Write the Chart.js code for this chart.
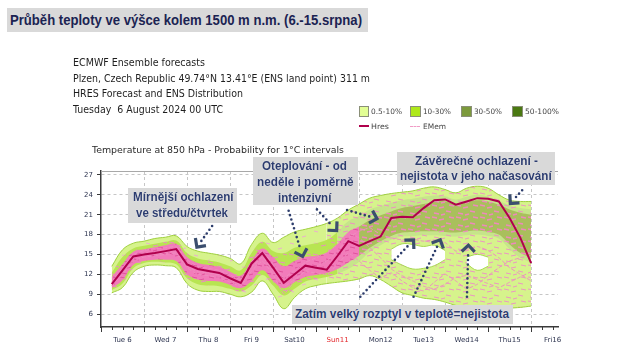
<!DOCTYPE html>
<html><head><meta charset="utf-8">
<script src="https://cdn.jsdelivr.net/npm/chart.js@4.4.1/dist/chart.umd.min.js"></script>
<style>
html,body{margin:0;padding:0;background:#fff;}
body{width:630px;height:353px;position:relative;overflow:hidden;font-family:'Liberation Sans',Arial,sans-serif;}
#c{position:absolute;left:0;top:0;}
.t{position:absolute;white-space:nowrap;transform-origin:0 50%;line-height:1;}
.box{position:absolute;background:#d9d9d9;}
.b{font-weight:bold;font-size:12px;color:#2c3c6f;text-shadow:0 0 1px #fff;}
.h{font-family:'DejaVu Sans',sans-serif;font-size:9.6px;color:#1e1e1e;}
.lg{font-family:'DejaVu Sans',sans-serif;font-size:7.5px;color:#444;}
.sw{position:absolute;box-sizing:border-box;border:1px solid #8a8f78;}
</style></head><body>
<canvas id="c" width="630" height="353"></canvas>

<div class="box" style="left:7px;top:8px;width:361px;height:24px"></div>
<div class="t" data-w="352" data-l="10" data-cy="20" style="font-size:15.5px;font-weight:bold;color:#1b2352">Průběh teploty ve výšce kolem 1500 m n.m. (6.-15.srpna)</div>

<div class="t h" data-w="132" data-l="73" data-cy="62.7">ECMWF Ensemble forecasts</div>
<div class="t h" data-w="297" data-l="73" data-cy="78.5">Plzen, Czech Republic 49.74°N 13.41°E (ENS land point) 311 m</div>
<div class="t h" data-w="170" data-l="73" data-cy="94.2">HRES Forecast and ENS Distribution</div>
<div class="t h" data-w="150" data-l="73" data-cy="109.8">Tuesday&nbsp; 6 August 2024 00 UTC</div>

<div class="sw" style="left:359px;top:106px;width:10px;height:11px;background:#e2fe94"></div>
<div class="t lg" data-w="31" data-l="371" data-cy="111.5">0.5-10%</div>
<div class="sw" style="left:410px;top:106px;width:11px;height:11px;background:#aee81a"></div>
<div class="t lg" data-w="28" data-l="422.5" data-cy="111.5">10-30%</div>
<div class="sw" style="left:461px;top:106px;width:11px;height:11px;background:#7c9a3c"></div>
<div class="t lg" data-w="28" data-l="473.5" data-cy="111.5">30-50%</div>
<div class="sw" style="left:512px;top:106px;width:11px;height:11px;background:#4b7912"></div>
<div class="t lg" data-w="34" data-l="524.5" data-cy="111.5">50-100%</div>
<div style="position:absolute;left:359px;top:125px;width:10px;height:2px;background:#b0004c"></div>
<div class="t lg" data-w="18" data-l="371" data-cy="126.5">Hres</div>
<div style="position:absolute;left:410px;top:126px;width:10px;height:0;border-top:1px dashed #f09cc6"></div>
<div class="t lg" data-w="23" data-l="422.5" data-cy="126.5">EMem</div>

<div class="t h" data-w="252" data-l="91.7" data-cy="150" style="font-size:9.5px;color:#2a2a2a">Temperature at 850 hPa - Probability for 1°C intervals</div>

<div class="box" style="left:128px;top:188px;width:109px;height:35px"></div>
<div class="t b" data-w="100.6" data-cx="183" data-cy="197.5">Mírnější ochlazení</div>
<div class="t b" data-w="92" data-cx="182" data-cy="213.5">ve středu/čtvrtek</div>

<div class="box" style="left:252.7px;top:157px;width:105.6px;height:48px"></div>
<div class="t b" data-w="85" data-cx="304.2" data-cy="166">Oteplování - od</div>
<div class="t b" data-w="96.6" data-cx="305" data-cy="182.3">neděle i poměrně</div>
<div class="t b" data-w="53.4" data-cx="305" data-cy="198.3">intenzivní</div>

<div class="box" style="left:396.7px;top:151.7px;width:158.3px;height:33.3px"></div>
<div class="t b" data-w="123" data-cx="476.7" data-cy="161.5">Závěrečné ochlazení -</div>
<div class="t b" data-w="151.7" data-cx="475.8" data-cy="176.5">nejistota v jeho načasování</div>

<div class="box" style="left:291.7px;top:305px;width:221.6px;height:18.5px"></div>
<div class="t b" data-w="214" data-cx="402" data-cy="313.8">Zatím velký rozptyl v teplotě=nejistota</div>

<script>
// ---- data (hours after Tue 6 Aug 00 UTC, 6-hourly) ----
const hours = [6,12,18,24,30,36,42,48,54,60,66,72,78,84,90,96,102,108,114,120,126,132,138,144,150,156,162,168,174,180,186,192,198,204,210,216,222,228,234,240];
const hres    = [10.5,12.6,14.7,15.0,15.2,15.5,15.8,13.5,12.8,12.5,12.2,11.4,10.7,13.6,15.2,13.0,10.7,12.0,13.3,13.0,12.7,14.8,17.0,16.3,17.0,17.7,20.5,20.7,20.6,22.0,23.2,23.3,22.5,23.0,23.5,23.4,23.0,20.5,17.5,13.7];
// 0.5-10 % envelope
const outerLo = [9.2,10.0,12.3,13.2,13.4,13.3,13.0,10.6,9.6,9.4,9.4,9.0,8.6,9.3,11.0,9.0,6.8,8.5,9.8,10.3,10.6,10.8,11.0,11.3,11.8,11.2,10.2,9.2,8.8,8.4,8.2,7.8,7.3,7.0,7.0,7.0,6.9,6.9,7.0,7.2];
const outerHi = [13.2,15.7,16.7,17.0,17.4,17.6,17.8,16.2,15.5,15.2,14.9,14.4,13.6,16.5,18.2,16.8,17.6,18.4,18.8,19.2,19.7,20.5,21.7,22.6,23.5,23.9,24.2,24.4,24.6,25.0,25.2,24.8,24.3,25.0,25.3,25.0,24.0,23.2,23.0,23.0];
// empty areas inside the envelope
const holeLo  = [null,null,null,null,null,null,null,null,null,null,null,null,null,null,null,null,null,null,null,null,null,null,null,null,null,null,14.2,13.4,12.8,12.9,13.3,14.2,null,13.6,12.6,13.2,null,null,null,null];
const holeHi  = [null,null,null,null,null,null,null,null,null,null,null,null,null,null,null,null,null,null,null,null,null,null,null,null,null,null,15.8,16.6,16.5,16.2,16.4,15.6,null,14.6,15.0,14.6,null,null,null,null];
// 10-30 % band
const band30Lo = [9.6,10.6,12.9,13.7,13.9,13.8,13.5,11.4,10.5,10.3,10.2,9.8,9.4,10.3,11.9,10.3,8.8,9.8,10.9,11.3,11.6,12.1,12.8,13.9,15.4,16.4,17.2,17.7,17.8,17.9,17.9,17.8,17.7,17.9,18.0,17.8,17.4,15.8,14.5,13.8];
const band30Hi = [12.2,14.6,15.9,16.3,16.6,16.9,17.1,15.2,14.4,14.1,13.8,13.2,12.6,15.2,16.9,15.5,15.2,16.0,16.4,16.7,17.2,18.4,20.0,20.8,21.8,22.3,22.8,23.2,23.4,23.7,23.9,23.8,23.3,23.7,24.0,23.7,23.1,22.4,22.0,21.8];
// densest part of the ensemble
const coreLo = [9.9,11.1,13.4,14.0,14.2,14.2,14.0,12.0,11.2,11.0,10.9,10.4,9.9,11.0,12.6,11.0,9.9,10.8,11.6,11.9,12.2,12.8,13.8,14.8,16.0,17.0,17.8,18.3,18.4,18.5,18.5,18.4,18.3,18.5,18.6,18.4,18.0,16.5,15.2,14.5];
const coreHi = [11.6,13.5,15.4,15.8,16.1,16.4,16.6,14.6,13.7,13.4,13.1,12.4,11.8,14.0,15.9,14.6,13.2,14.0,14.6,14.8,15.3,16.6,18.4,19.2,20.2,20.9,21.5,22.0,22.3,22.6,22.9,23.0,22.6,23.0,23.2,23.0,22.5,21.8,21.3,21.0];
// a few individual ensemble members
const memberA = [10.6,12.4,14.4,15.2,15.0,15.3,15.6,13.2,12.4,12.2,11.9,11.2,10.4,13.0,14.6,12.5,10.2,11.2,12.4,12.2,12.0,13.5,15.2,14.0,12.6,11.5,12.2,11.0,10.0,9.5,10.8,12.0,11.0,9.8,10.5,11.8,13.0,14.0,14.5,14.8];
const memberB = [10.3,12.0,14.0,14.6,14.8,15.0,15.2,13.0,12.0,11.8,11.5,10.8,10.2,12.5,14.0,12.0,9.0,11.0,12.5,13.2,14.0,15.5,17.5,18.5,19.0,18.0,17.5,17.2,17.3,17.0,17.2,16.8,15.5,15.8,16.2,15.6,14.5,13.0,12.0,11.0];
const memberC = [10.8,12.9,15.0,15.6,15.9,16.0,16.2,14.2,13.2,12.9,12.6,11.9,11.2,13.9,15.5,13.5,11.5,12.6,13.8,14.5,15.2,16.5,18.2,17.5,16.0,14.5,12.8,11.8,11.0,10.2,9.8,10.5,11.5,11.8,11.2,10.6,10.0,10.8,11.6,12.4];
// axes
const yTicks = [6,9,12,15,18,21,24,27];
const xTickHours = [0,6,12,18,24,30,36,42,48,54,60,66,72,78,84,90,96,102,108,114,120,126,132,138,144,150,156,162,168,174,180,186,192,198,204,210,216,222,228,234,240,246,252];
const dayLabels = ["Tue 6","Wed 7","Thu 8","Fri 9","Sat10","Sun11","Mon12","Tue13","Wed14","Thu15","Fri16"];
const sundayLabel = "Sun11";
// annotation arrows, in data coordinates [hour, °C]
const arrows = [
  {from:[62,19.3],   to:[53.5,16.1]},
  {from:[104.7,21.6],to:[112.5,14.7]},
  {from:[120.5,21.8],to:[131.5,18.6]},
  {from:[137.3,21.7],to:[154,20.4]},
  {from:[144.7,8.6], to:[174.4,17.2]},
  {from:[174.4,8.6], to:[189.3,17.2]},
  {from:[204.2,8.6], to:[205,16.4]},
  {from:[235,24.7],  to:[228.4,22.7]}
];

// ---- text fitting ----
document.querySelectorAll('[data-w]').forEach(el=>{
  const w=+el.dataset.w, nat=el.getBoundingClientRect().width;
  el.style.transform='scaleX('+(w/nat)+')';
  el.style.left=(el.dataset.cx!==undefined ? (+el.dataset.cx - w/2) : +el.dataset.l)+'px';
  const fs=parseFloat(getComputedStyle(el).fontSize);
  el.style.top=(+el.dataset.cy - 0.52*fs)+'px';
});

// ---- fill textures ----
const mainCtx=document.getElementById('c').getContext('2d');
function pattern(bg, fg, lw, strokes){
  const c=document.createElement('canvas'); c.width=24; c.height=12;
  const g=c.getContext('2d'); g.fillStyle=bg; g.fillRect(0,0,24,12);
  g.strokeStyle=fg; g.lineWidth=lw;
  strokes.forEach(s=>{g.beginPath();g.moveTo(s[0],s[1]);g.lineTo(s[2],s[3]);g.stroke();});
  return mainCtx.createPattern(c,'repeat');
}
const sparse=[[2,3,6,4],[14,9,18,8]];
const medium=[[1,2,6,3],[9,6,14,5],[16,10,21,11],[19,2,23,3]];
const dense=[[0,1,5,2],[7,4,12,3],[14,7,19,8],[2,9,7,10],[17,1,22,2],[9,11,13,10]];
const patOuterA=pattern('#d6f38c','#eab0cc',1,sparse);
const patOuterB=pattern('#d6f38c','#eb98c2',1,dense);
const pat30A=pattern('#b8e552','#e98fc0',1,medium);
const pat30B=pattern('#c6e58a','#ec92c0',1,dense);
const patPink=pattern('#f27cba','#e1539d',1,dense);
const patOlive=pattern('#a9bf5c','#ee88bd',1.3,dense);

const pts=a=>hours.map((h,i)=>({x:h,y:a[i]}));
const none='rgba(0,0,0,0)';
const band=(d,o,extra)=>Object.assign({data:pts(d),pointRadius:0,borderWidth:0,borderColor:none,fill:false,tension:0.4,order:o},extra||{});

const datasets=[
  band(outerLo,10,{borderWidth:1,borderColor:'#9fd03e'}),
  band(outerHi,10,{borderWidth:1,borderColor:'#9fd03e',fill:{target:0},backgroundColor:patOuterA,
     segment:{backgroundColor:c=>c.p0.parsed.x>=126?patOuterB:patOuterA}}),
  band(holeLo,9,{borderWidth:1,borderColor:'#a8d850'}),
  band(holeHi,9,{borderWidth:1,borderColor:'#a8d850',fill:{target:2},backgroundColor:'#ffffff'}),
  band(band30Lo,8),
  band(band30Hi,8,{fill:{target:4},backgroundColor:pat30A,
     segment:{backgroundColor:c=>c.p0.parsed.x>=132?pat30B:pat30A}}),
  band(coreLo,7),
  band(coreHi,7,{fill:{target:6},backgroundColor:patPink,
     segment:{backgroundColor:c=>c.p0.parsed.x>=144?patOlive:patPink}}),
  {data:pts(memberA),pointRadius:0,borderWidth:1,borderColor:'#ee8fc0',borderDash:[4,2],fill:false,tension:0.1,order:6},
  {data:pts(memberB),pointRadius:0,borderWidth:1,borderColor:'#ee8fc0',borderDash:[4,2],fill:false,tension:0.1,order:6},
  {data:pts(memberC),pointRadius:0,borderWidth:1,borderColor:'#ee8fc0',borderDash:[4,2],fill:false,tension:0.1,order:6},
  {data:pts(hres),pointRadius:0,borderWidth:2,borderColor:'#b0004c',fill:false,tension:0,order:0}
];

const deco={
  id:'deco',
  afterDatasetsDraw(chart){
    const {ctx,scales:{x,y}}=chart;
    arrows.forEach(a=>{
      const x0=x.getPixelForValue(a.from[0]), y0=y.getPixelForValue(a.from[1]);
      const x1=x.getPixelForValue(a.to[0]), y1=y.getPixelForValue(a.to[1]);
      const L=Math.hypot(x1-x0,y1-y0), dx=(x1-x0)/L, dy=(y1-y0)/L;
      ctx.save();
      ctx.strokeStyle='#2d3d6c'; ctx.lineWidth=2.6; ctx.lineCap='round';
      ctx.setLineDash([0,4.6]);
      ctx.beginPath(); ctx.moveTo(x0,y0); ctx.lineTo(x1-dx*7,y1-dy*7); ctx.stroke();
      ctx.setLineDash([]);
      const nx=-dy, ny=dx, s=6.5;
      ctx.strokeStyle='#3b4e6e'; ctx.lineWidth=3.2; ctx.lineCap='butt'; ctx.lineJoin='miter';
      ctx.beginPath();
      ctx.moveTo(x1-dx*s+nx*s, y1-dy*s+ny*s);
      ctx.lineTo(x1,y1);
      ctx.lineTo(x1-dx*s-nx*s, y1-dy*s-ny*s);
      ctx.stroke();
      ctx.restore();
    });
  },
  afterDraw(chart){
    const {ctx,chartArea:ca,scales:{x}}=chart;
    ctx.save();
    ctx.strokeStyle='#a8a8a8'; ctx.lineWidth=1;
    ctx.beginPath(); ctx.moveTo(ca.left,ca.top+0.5); ctx.lineTo(ca.right,ca.top+0.5); ctx.stroke();
    ctx.strokeStyle='#3a3a3a';
    xTickHours.forEach(h=>{
      const px=Math.round(x.getPixelForValue(h))+0.5, len=(h%24===0)?5:3;
      ctx.beginPath(); ctx.moveTo(px,ca.bottom); ctx.lineTo(px,ca.bottom+len); ctx.stroke();
    });
    ctx.restore();
  }
};

new Chart(document.getElementById('c'),{
  type:'line',
  data:{datasets},
  options:{
    responsive:false, animation:false, devicePixelRatio:1,
    layout:{padding:{left:81,right:72,top:171,bottom:0}},
    plugins:{legend:{display:false},tooltip:{enabled:false}},
    scales:{
      x:{type:'linear',min:0,max:255,
        afterBuildTicks:s=>{s.ticks=xTickHours.map(v=>({value:v}));},
        afterFit:s=>{s.height=26;},
        ticks:{autoSkip:false,maxRotation:0,minRotation:0,padding:9,
          font:{family:'DejaVu Sans',size:7},
          color:c=>(c.tick && dayLabels[(c.tick.value-12)/24]===sundayLabel)?'#e3262b':'#2e3550',
          callback:v=>(v%24===12 && dayLabels[(v-12)/24]!==undefined)?dayLabels[(v-12)/24]:''},
        grid:{drawTicks:false,lineWidth:1,
          color:c=>(c.tick && c.tick.value%24===0 && c.tick.value>0 && c.tick.value<=240)?'#c6c6c6':none},
        border:{color:'#3a3a3a',width:1.5,dash:[3,3]}
      },
      y:{min:4.04,max:27.6,
        afterBuildTicks:s=>{s.ticks=yTicks.map(v=>({value:v}));},
        afterFit:s=>{s.width=20;},
        ticks:{padding:4,font:{family:'DejaVu Sans',size:7},color:'#2e3550'},
        grid:{color:'#c6c6c6',lineWidth:1,drawTicks:true,tickLength:4,tickColor:'#3a3a3a'},
        border:{color:'#3a3a3a',width:1.5,dash:[3,3]}
      }
    }
  },
  plugins:[deco]
});
</script>
</body></html>
